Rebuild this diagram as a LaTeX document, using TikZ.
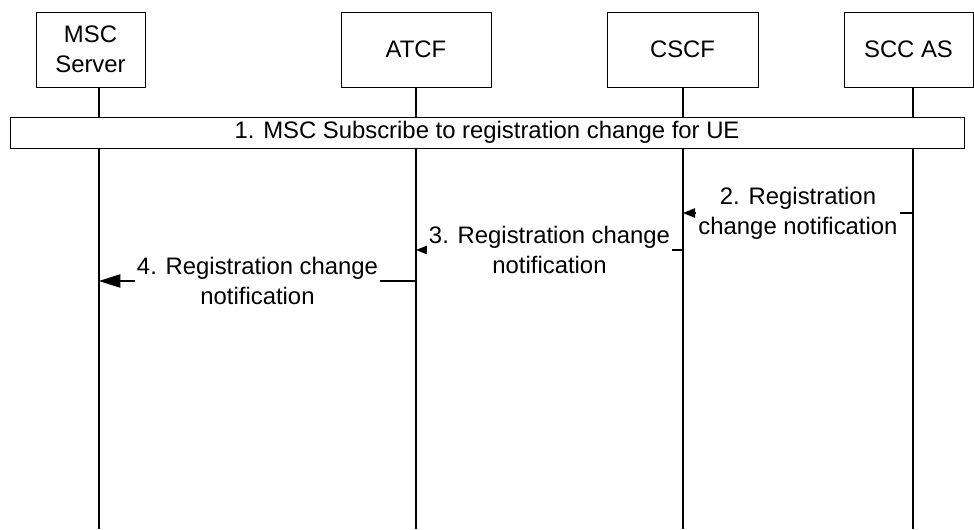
\documentclass[tikz,border=0pt]{standalone}
\usepackage{fontspec}
\setmainfont{Liberation Sans}
\usetikzlibrary{arrows.meta}

\begin{document}
\begin{tikzpicture}[x=0.75pt,y=0.75pt,yscale=-1,xscale=1,
  every node/.style={font=\fontsize{17.9}{22.5}\selectfont},
  entity/.style={draw, line width=0.75pt, minimum height=56.25pt, align=center, inner sep=0pt},
  life/.style={line width=0.9pt},
  msg/.style={line width=0.9pt, -{Triangle[length=9pt, width=7pt]}},
  bigmsg/.style={line width=0.9pt, -{Triangle[length=16pt, width=10pt]}},
  lbl/.style={fill=white, align=center, inner sep=1.5pt}]
\useasboundingbox (0,0) rectangle (974,529);

% Entities
\node [entity, minimum width=81.75pt] (msc) at (90.5,49.5) {MSC\\Server};
\node [entity, minimum width=112.5pt] (atcf) at (416,49.5) {ATCF};
\node [entity, minimum width=113.25pt] (cscf) at (682.5,49.5) {CSCF};
\node [entity, minimum width=96.75pt] (scc) at (908.5,49.5) {SCC AS};

% Lifeline ends
\coordinate (mscbot) at (99,529);
\coordinate (atcfbot) at (416,529);
\coordinate (cscfbot) at (683,529);
\coordinate (sccbot) at (913,529);

% Lifelines
\draw [life] (msc.south -| mscbot) -- (mscbot);
\draw [life] (atcf.south -| atcfbot) -- (atcfbot);
\draw [life] (cscf.south -| cscfbot) -- (cscfbot);
\draw [life] (scc.south -| sccbot) -- (sccbot);

% Step 1
\node [draw, fill=white, line width=0.75pt, minimum width=715.5pt, minimum height=23.25pt, inner sep=0pt] (sub) at (487,132.5) {1. MSC Subscribe to registration change for UE};

% Steps 2-4
\coordinate (m2s) at (sccbot |- 0,213);
\coordinate (m2e) at (cscfbot |- 0,213);
\coordinate (m3s) at (cscfbot |- 0,250);
\coordinate (m3e) at (atcfbot |- 0,250);
\coordinate (m4s) at (atcfbot |- 0,281);
\coordinate (m4e) at (mscbot |- 0,281);

\draw [msg] (m2s) -- node [lbl] (l2) {2. Registration\\change notification} (m2e);
\draw [msg] (m3s) -- node [lbl] (l3) {3. Registration change\\notification} (m3e);
\draw [bigmsg] (m4s) -- node [lbl] (l4) {4. Registration change\\notification} (m4e);

\end{tikzpicture}
\end{document}
